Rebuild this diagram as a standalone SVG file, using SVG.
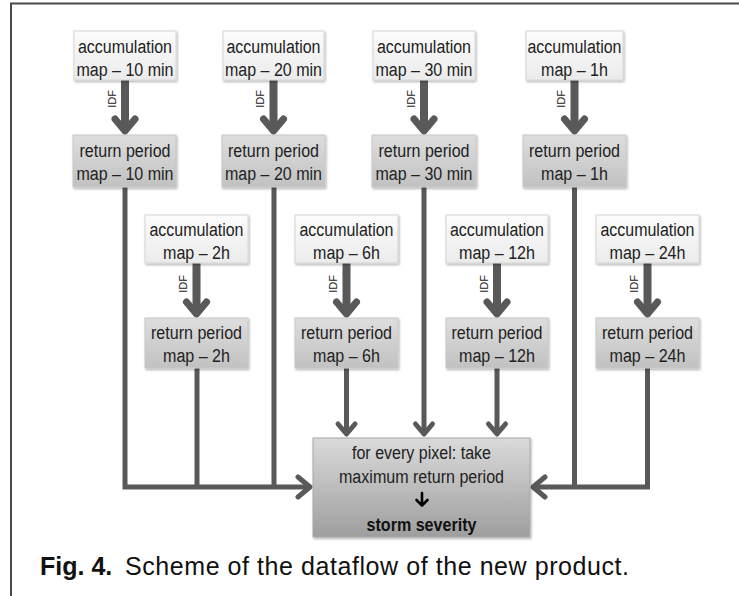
<svg xmlns="http://www.w3.org/2000/svg" width="739" height="596" viewBox="0 0 739 596">
<defs>
<linearGradient id="gAcc" x1="0" y1="0" x2="0" y2="1"><stop offset="0" stop-color="#fcfcfc"/><stop offset="1" stop-color="#ebebeb"/></linearGradient>
<linearGradient id="gRet" x1="0" y1="0" x2="0" y2="1"><stop offset="0" stop-color="#dedede"/><stop offset="1" stop-color="#c1c1c1"/></linearGradient>
<linearGradient id="gBig" x1="0" y1="0" x2="0" y2="1"><stop offset="0" stop-color="#dadada"/><stop offset="1" stop-color="#9e9e9e"/></linearGradient>
<filter id="sh" x="-10%" y="-10%" width="120%" height="130%"><feDropShadow dx="1" dy="1.5" stdDeviation="1" flood-color="#000" flood-opacity="0.3"/></filter>
</defs>
<style>
.acc{fill:url(#gAcc);stroke:#d6d6d6;stroke-width:1;filter:url(#sh)}
.ret{fill:url(#gRet);stroke:#c8c8c8;stroke-width:1;filter:url(#sh)}
.big{fill:url(#gBig);stroke:#a8a8a8;stroke-width:1;filter:url(#sh)}
.t{font-family:"Liberation Sans",Arial,sans-serif;font-size:18px;fill:#222;text-anchor:middle}
.tb{font-family:"Liberation Sans",Arial,sans-serif;font-size:18px;fill:#111;text-anchor:middle;font-weight:bold}
.idf{font-family:"Liberation Sans",Arial,sans-serif;font-size:11px;fill:#222;text-anchor:middle}
.sh1{stroke:#595959;stroke-width:8;fill:none}
.hd1{stroke:#595959;stroke-width:7;fill:none;stroke-linecap:round;stroke-linejoin:round}
.ln{stroke:#595959;stroke-width:5;fill:none;stroke-linejoin:miter}
.hd2{stroke:#595959;stroke-width:5;fill:none;stroke-linecap:round;stroke-linejoin:round}
.cap{font-family:"Liberation Sans",Arial,sans-serif;font-size:25px;fill:#111}
</style>
<rect x="0" y="0" width="739" height="596" fill="#ffffff"/>
<g id="frame">
<path d="M11,596 V3.5 H739" stroke="#4a4a4a" stroke-width="2" fill="none"/>
</g>
<g id="connectors">
<path class="sh1" d="M125,80 V130 M273.5,80 V130 M424,80 V130 M574.5,80 V130"/>
<path class="hd1" d="M115,119 L125,131 L135,119 M263.5,119 L273.5,131 L283.5,119 M414,119 L424,131 L434,119 M564.5,119 L574.5,131 L584.5,119"/>
<path class="sh1" d="M196.5,263 V313 M346.5,263 V313 M497,263 V313 M647.5,263 V313"/>
<path class="hd1" d="M186.5,302 L196.5,314 L206.5,302 M336.5,302 L346.5,314 L356.5,302 M487,302 L497,314 L507,302 M637.5,302 L647.5,314 L657.5,302"/>
<path class="ln" d="M125,187 V487 H309 M197,368 V487 M274,187 V487"/>
<path class="ln" d="M574.5,187 V487 H534 M647.5,368 V487 H574.5"/>
<path class="ln" d="M424,187 V433 M346.5,368 V433 M497,368 V433"/>
<path class="hd2" d="M298,477 L310,487 L298,497 M545,477 L533,487 L545,497"/>
<path class="hd2" d="M338,424 L346.5,434 L355,424 M415.5,424 L424,434 L432.5,424 M488.5,424 L497,434 L505.5,424"/>
</g>
<g id="labels-idf">
<text class="idf" transform="translate(115.5,99) rotate(-90)">IDF</text>
<text class="idf" transform="translate(264,99) rotate(-90)">IDF</text>
<text class="idf" transform="translate(414.5,99) rotate(-90)">IDF</text>
<text class="idf" transform="translate(565,99) rotate(-90)">IDF</text>
<text class="idf" transform="translate(187,284) rotate(-90)">IDF</text>
<text class="idf" transform="translate(337,284) rotate(-90)">IDF</text>
<text class="idf" transform="translate(487.5,284) rotate(-90)">IDF</text>
<text class="idf" transform="translate(638,284) rotate(-90)">IDF</text>
</g>
<g id="acc-10min"><rect class="acc" x="74" y="31" width="102" height="49"/><text class="t" x="125" y="53" textLength="94" lengthAdjust="spacingAndGlyphs">accumulation</text><text class="t" x="125" y="76" textLength="97" lengthAdjust="spacingAndGlyphs">map – 10 min</text></g>
<g id="acc-20min"><rect class="acc" x="223" y="31" width="101" height="49"/><text class="t" x="273.5" y="53" textLength="94" lengthAdjust="spacingAndGlyphs">accumulation</text><text class="t" x="273.5" y="76" textLength="97" lengthAdjust="spacingAndGlyphs">map – 20 min</text></g>
<g id="acc-30min"><rect class="acc" x="373" y="31" width="102" height="49"/><text class="t" x="424" y="53" textLength="94" lengthAdjust="spacingAndGlyphs">accumulation</text><text class="t" x="424" y="76" textLength="97" lengthAdjust="spacingAndGlyphs">map – 30 min</text></g>
<g id="acc-1h"><rect class="acc" x="526" y="31" width="97" height="49"/><text class="t" x="574.5" y="53" textLength="94" lengthAdjust="spacingAndGlyphs">accumulation</text><text class="t" x="574.5" y="76" textLength="67" lengthAdjust="spacingAndGlyphs">map – 1h</text></g>
<g id="ret-10min"><rect class="ret" x="73" y="135" width="103" height="52"/><text class="t" x="125" y="157" textLength="91" lengthAdjust="spacingAndGlyphs">return period</text><text class="t" x="125" y="180" textLength="97" lengthAdjust="spacingAndGlyphs">map – 10 min</text></g>
<g id="ret-20min"><rect class="ret" x="222" y="135" width="103" height="52"/><text class="t" x="273.5" y="157" textLength="91" lengthAdjust="spacingAndGlyphs">return period</text><text class="t" x="273.5" y="180" textLength="97" lengthAdjust="spacingAndGlyphs">map – 20 min</text></g>
<g id="ret-30min"><rect class="ret" x="372" y="135" width="104" height="52"/><text class="t" x="424" y="157" textLength="91" lengthAdjust="spacingAndGlyphs">return period</text><text class="t" x="424" y="180" textLength="97" lengthAdjust="spacingAndGlyphs">map – 30 min</text></g>
<g id="ret-1h"><rect class="ret" x="523" y="135" width="103" height="52"/><text class="t" x="574.5" y="157" textLength="91" lengthAdjust="spacingAndGlyphs">return period</text><text class="t" x="574.5" y="180" textLength="67" lengthAdjust="spacingAndGlyphs">map – 1h</text></g>
<g id="acc-2h"><rect class="acc" x="145" y="215" width="103" height="48"/><text class="t" x="196.5" y="236" textLength="94" lengthAdjust="spacingAndGlyphs">accumulation</text><text class="t" x="196.5" y="259" textLength="67" lengthAdjust="spacingAndGlyphs">map – 2h</text></g>
<g id="acc-6h"><rect class="acc" x="295" y="215" width="103" height="48"/><text class="t" x="346.5" y="236" textLength="94" lengthAdjust="spacingAndGlyphs">accumulation</text><text class="t" x="346.5" y="259" textLength="67" lengthAdjust="spacingAndGlyphs">map – 6h</text></g>
<g id="acc-12h"><rect class="acc" x="446" y="215" width="102" height="48"/><text class="t" x="497" y="236" textLength="94" lengthAdjust="spacingAndGlyphs">accumulation</text><text class="t" x="497" y="259" textLength="76" lengthAdjust="spacingAndGlyphs">map – 12h</text></g>
<g id="acc-24h"><rect class="acc" x="596" y="215" width="103" height="48"/><text class="t" x="647.5" y="236" textLength="94" lengthAdjust="spacingAndGlyphs">accumulation</text><text class="t" x="647.5" y="259" textLength="76" lengthAdjust="spacingAndGlyphs">map – 24h</text></g>
<g id="ret-2h"><rect class="ret" x="145" y="318" width="103" height="50"/><text class="t" x="196.5" y="339" textLength="91" lengthAdjust="spacingAndGlyphs">return period</text><text class="t" x="196.5" y="362" textLength="67" lengthAdjust="spacingAndGlyphs">map – 2h</text></g>
<g id="ret-6h"><rect class="ret" x="295" y="318" width="103" height="50"/><text class="t" x="346.5" y="339" textLength="91" lengthAdjust="spacingAndGlyphs">return period</text><text class="t" x="346.5" y="362" textLength="67" lengthAdjust="spacingAndGlyphs">map – 6h</text></g>
<g id="ret-12h"><rect class="ret" x="446" y="318" width="102" height="50"/><text class="t" x="497" y="339" textLength="91" lengthAdjust="spacingAndGlyphs">return period</text><text class="t" x="497" y="362" textLength="76" lengthAdjust="spacingAndGlyphs">map – 12h</text></g>
<g id="ret-24h"><rect class="ret" x="596" y="318" width="103" height="50"/><text class="t" x="647.5" y="339" textLength="91" lengthAdjust="spacingAndGlyphs">return period</text><text class="t" x="647.5" y="362" textLength="76" lengthAdjust="spacingAndGlyphs">map – 24h</text></g>
<g id="storm-severity">
<rect class="big" x="313" y="438" width="217" height="99"/>
<text class="t" x="421.5" y="459" textLength="139" lengthAdjust="spacingAndGlyphs">for every pixel: take</text>
<text class="t" x="421.5" y="483" textLength="165" lengthAdjust="spacingAndGlyphs">maximum return period</text>
<path d="M422,493 V505 M416.5,500 L422,505.5 L427.5,500" stroke="#000" stroke-width="2.6" fill="none" stroke-linecap="round" stroke-linejoin="round"/>
<text class="tb" x="421.5" y="531" textLength="110" lengthAdjust="spacingAndGlyphs">storm severity</text>
</g>
<g id="caption">
<text class="cap" x="40" y="575" font-weight="bold">Fig. 4.</text>
<text class="cap" x="125" y="575" textLength="504" lengthAdjust="spacing">Scheme of the dataflow of the new product.</text>
</g>
</svg>
